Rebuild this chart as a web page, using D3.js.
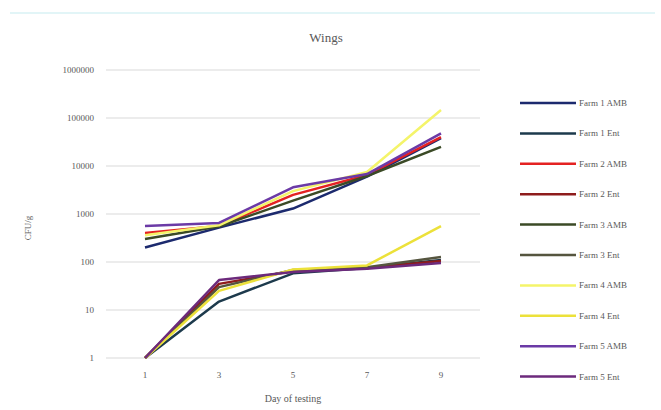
<!DOCTYPE html>
<html><head><meta charset="utf-8">
<script src="https://cdn.jsdelivr.net/npm/d3@7"></script>
<style>body{margin:0;background:#fff}svg{display:block}text{font-family:"Liberation Serif","DejaVu Serif",serif;fill:#595959}</style>
</head><body><svg id="c" width="661" height="410"></svg>
<script>
const days = ["1","3","5","7","9"];
const yTicks = [1,10,100,1000,10000,100000,1000000];
const seriesNames = ["Farm 1 AMB","Farm 1 Ent","Farm 2 AMB","Farm 2 Ent","Farm 3 AMB","Farm 3 Ent","Farm 4 AMB","Farm 4 Ent","Farm 5 AMB","Farm 5 Ent"];
const farm1AMB = [200, 520, 1300, 6000, 38000];
const farm1Ent = [1, 15, 58, 75, 110];
const farm2AMB = [400, 560, 2500, 6500, 40000];
const farm2Ent = [1, 35, 65, 75, 105];
const farm3AMB = [300, 550, 1900, 6200, 25000];
const farm3Ent = [1, 30, 68, 78, 127];
const farm4AMB = [360, 580, 3000, 7500, 147000];
const farm4Ent = [1, 25, 70, 85, 560];
const farm5AMB = [560, 650, 3600, 6800, 48000];
const farm5Ent = [1, 42, 62, 72, 95];
const seriesValues = [farm1AMB, farm1Ent, farm2AMB, farm2Ent, farm3AMB, farm3Ent, farm4AMB, farm4Ent, farm5AMB, farm5Ent];
const colors = ["#1c2a6e","#1d3a4c","#e42222","#8e1c1c","#3b4a26","#55553f","#f4f46a","#ece13a","#6b3aa6","#6c2a7c"];

const svg = d3.select("#c");
svg.append("line").attr("x1",10).attr("x2",655).attr("y1",13).attr("y2",13).attr("stroke","#e2f5f7").attr("stroke-width",2);

const x = d3.scalePoint().domain(days).range([145,441]);
const y = d3.scaleLog().domain([1,1000000]).range([358,70]);

const grid = svg.append("g");
grid.selectAll("line").data(yTicks).join("line")
  .attr("x1",106).attr("x2",480).attr("y1",d=>y(d)).attr("y2",d=>y(d))
  .attr("stroke","#d9d9d9").attr("stroke-width",1);
svg.append("g").selectAll("text").data(yTicks).join("text")
  .attr("x",94).attr("y",d=>y(d)+3).attr("text-anchor","end").attr("font-size",9).text(d=>d);
svg.append("g").selectAll("text").data(days).join("text")
  .attr("x",d=>x(d)).attr("y",378).attr("text-anchor","middle").attr("font-size",9).text(d=>d);

svg.append("text").attr("x",326).attr("y",42).attr("text-anchor","middle").attr("font-size",13).text("Wings");
svg.append("text").attr("x",293).attr("y",402).attr("text-anchor","middle").attr("font-size",10).text("Day of testing");
svg.append("text").attr("transform","translate(31,228) rotate(-90)").attr("text-anchor","middle").attr("font-size",9).text("CFU/g");

const line = d3.line().x((d,i)=>x(days[i])).y(d=>y(d));
svg.append("g").selectAll("path").data(seriesValues).join("path")
  .attr("d",d=>line(d)).attr("fill","none").attr("stroke",(d,i)=>colors[i])
  .attr("stroke-width",2.5).attr("stroke-linejoin","round");

const leg = svg.append("g").selectAll("g").data(seriesNames).join("g")
  .attr("transform",(d,i)=>`translate(520,${103+i*30.4})`);
leg.append("line").attr("x1",0).attr("x2",56).attr("stroke",(d,i)=>colors[i]).attr("stroke-width",2.5);
leg.append("text").attr("x",59).attr("y",3).attr("font-size",9).text(d=>d);
</script></body></html>
